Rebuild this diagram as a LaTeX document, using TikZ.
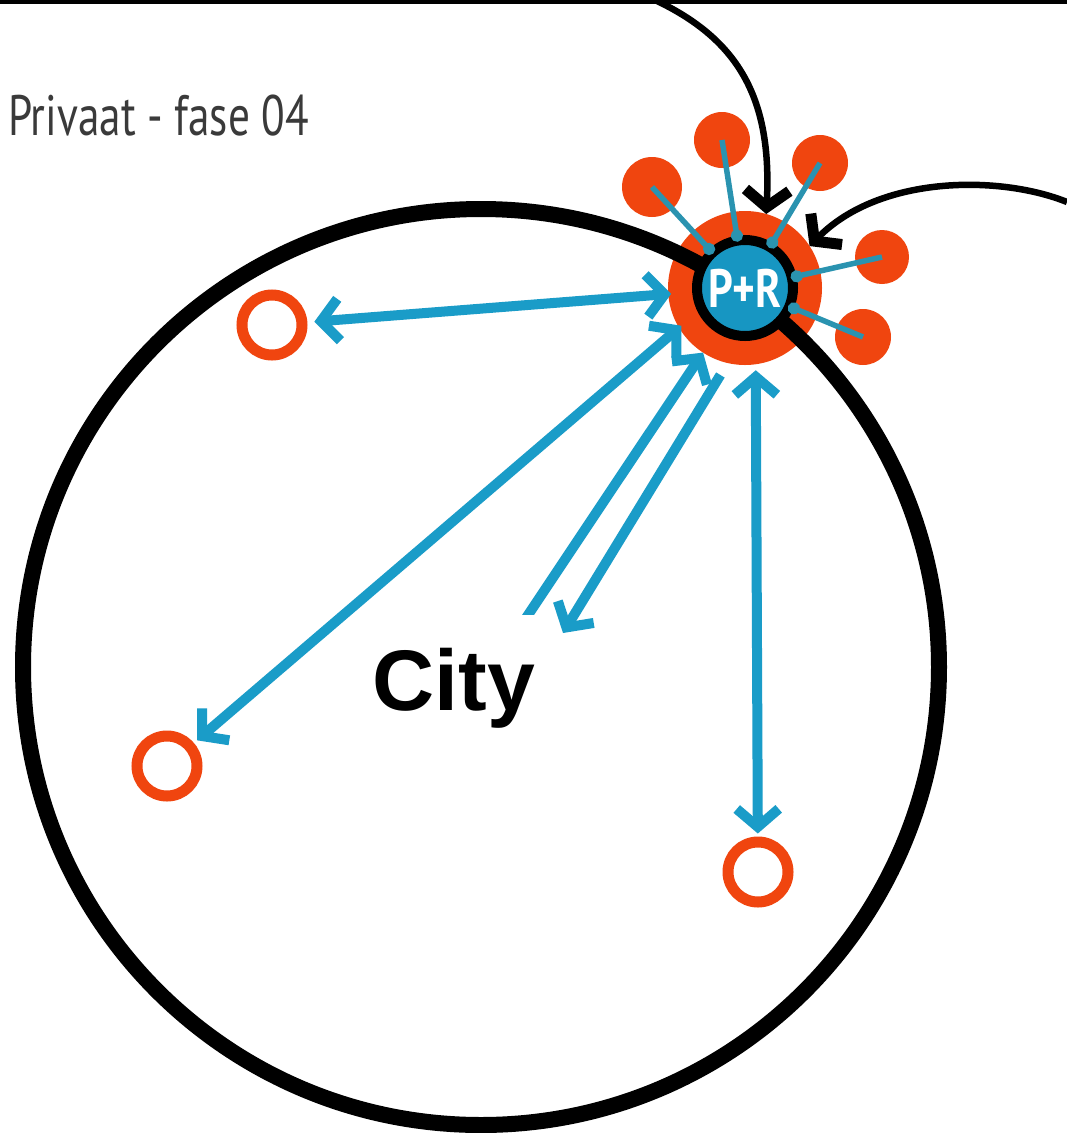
\documentclass[tikz,border=0pt]{standalone}
\usepackage{fontspec}
\newfontfamily\ptsans{PT Sans}
\newfontfamily\libsans{Liberation Sans}
\usetikzlibrary{arrows.meta,calc}
\definecolor{orng}{HTML}{F0450F}
\definecolor{pblue}{HTML}{1796C2}
\definecolor{ablue}{HTML}{1A9CC8}
\definecolor{sblue}{HTML}{2A93B0}
\definecolor{ttl}{HTML}{3A3A3A}
\tikzset{
  bigring/.style={draw=black, line width=16pt},
  hollow/.style={circle, draw=orng, line width=11pt, minimum size=60pt, inner sep=0pt},
  sat/.style={circle, fill=orng, inner sep=0pt, outer sep=0pt},
  satline/.style={draw=sblue, line width=5.5pt, -{Circle[length=12pt,width=12pt]}},
  barrow/.style={draw=ablue, line width=10pt,
     arrows={Straight Barb[length=18pt,width=42pt]-Straight Barb[length=18pt,width=42pt]}},
  barrowend/.style={draw=ablue, line width=10pt, -{Straight Barb[length=18pt,width=42pt]}},
  karrow/.style={draw=black, line width=6.5pt, -{Straight Barb[length=17pt,width=44pt,line width=11pt]}},
}
\begin{document}
\begin{tikzpicture}[x=1pt,y=-1pt]
\useasboundingbox (0,0) rectangle (1067,1133);
\fill[white] (0,0) rectangle (1067,1133);
% top bar
\fill[black] (0,0) rectangle (1067,4);
% title
\node[anchor=base west, inner sep=0pt, text=ttl] (title) at (8,135)
  {\scalebox{0.76}[1]{\ptsans\fontsize{57}{57}\selectfont Privaat - fase 04}};
% P+R outer orange disc
\node[circle, fill=orng, minimum size=154pt, inner sep=0pt, outer sep=0pt] (PR) at (745,288) {};
% big city circle
\draw[bigring] (481,667) circle[radius=458];
% satellites
\node[sat, minimum size=60pt] (s1) at (652,187) {};
\node[sat, minimum size=56pt] (s2) at (722,140) {};
\node[sat, minimum size=56pt] (s3) at (820,163) {};
\node[sat, minimum size=54pt] (s4) at (882,257) {};
\node[sat, minimum size=56pt] (s5) at (863,337) {};
% inner P+R
\node[circle, fill=pblue, draw=black, line width=10pt, minimum size=96pt, inner sep=0pt] (PRin) at (745,288)
  {\scalebox{0.8}[1]{\color{white}\ptsans\bfseries\fontsize{54}{54}\selectfont P+R}};
\foreach \s in {s1,s2,s3,s4,s5}
  \draw[satline, shorten >=-6pt] (\s.center) -- (PRin);
% black incoming curves
\coordinate (k1) at (655,0);
\coordinate (k2) at (1067,202);
\draw[karrow] (k1) .. controls (740,40) and (772,100) .. (PR.74);
\draw[karrow] (k2) .. controls (1000,175) and (880,175) .. (PR.33);
% destinations
\node[hollow] (A) at (272,325) {};
\node[hollow] (B) at (167,766) {};
\node[hollow] (C) at (758,872) {};
% blue arrows
\draw[barrow, shorten <=7pt, shorten >=-3pt] (A) -- (PR);
\draw[barrow, shorten <=4pt, shorten >=-3pt] (B) -- (PR.211);
\draw[barrow, shorten <=6pt, shorten >=3pt] (PR.-82) -- (C);
\coordinate (c3a) at (522,624);
\coordinate (c3b) at (563,633);
\draw[barrowend] (c3a) -- (PR.237);
\draw[barrowend, shorten <=14pt] (PR.257) -- (c3b);
% City label
\node[fill=white, inner sep=0pt, minimum width=202pt, text height=95pt, text depth=25pt, anchor=base] (city) at (454,710)
  {\libsans\bfseries\fontsize{86}{86}\selectfont City};
\end{tikzpicture}
\end{document}
